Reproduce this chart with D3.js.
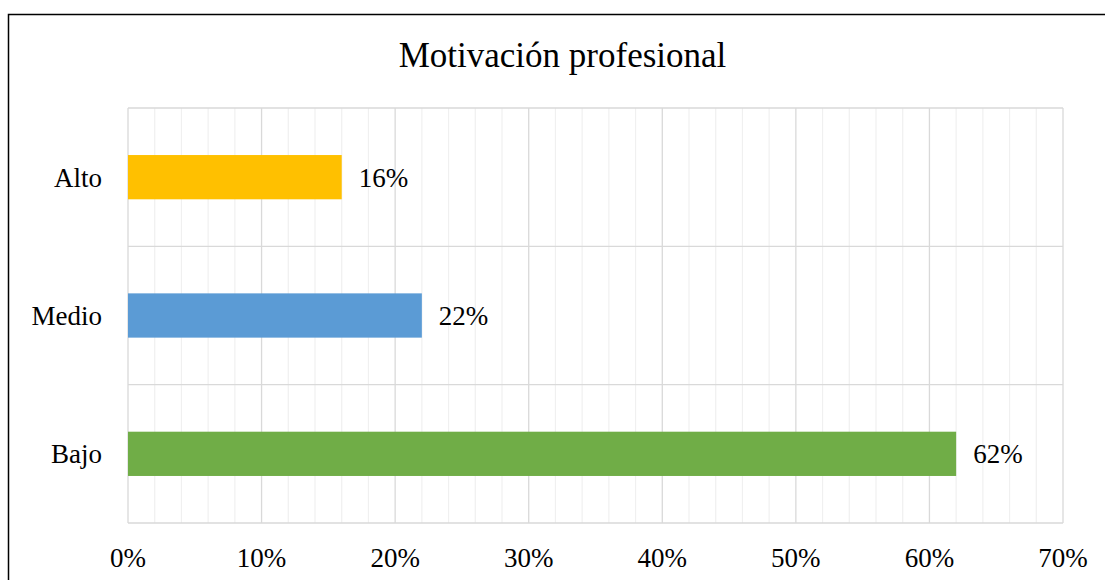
<!DOCTYPE html>
<html>
<head>
<meta charset="utf-8">
<script src="https://cdn.jsdelivr.net/npm/d3@7"></script>
<style>
  body { margin: 0; background: #fff; }
  svg text { font-family: "Liberation Serif", "Times New Roman", serif; fill: #000; }
</style>
</head>
<body>
<div id="chart"></div>
<script>
//Datos
const categories = ['Alto', 'Medio', 'Bajo'];
const values = [0.16, 0.22, 0.62];
const barColors = ['#FFC000', '#5B9BD5', '#70AD47'];
const xTicks = [0, 0.1, 0.2, 0.3, 0.4, 0.5, 0.6, 0.7];
const title = 'Motivación profesional';

const W = 1105, H = 580;
let margin = {top: 108, right: 42, bottom: 57, left: 128},
    width = W - margin.left - margin.right,
    height = H - margin.top - margin.bottom;

let svg = d3.select('#chart')
    .append('svg')
        .attr('width', W)
        .attr('height', H);

//Marco exterior
svg.append('rect')
    .attr('x', 8.5).attr('y', 14.5)
    .attr('width', W + 20).attr('height', H + 20)
    .attr('fill', 'none')
    .attr('stroke', '#000')
    .attr('stroke-width', 1.5);

//Título
svg.append('text')
    .attr('x', 562.5)
    .attr('y', 67)
    .attr('text-anchor', 'middle')
    .style('font-size', '35px')
    .text(title);

let g = svg.append('g')
    .attr('transform', 'translate(' + margin.left + ',' + margin.top + ')');

let x = d3.scaleLinear()
    .domain([0, 0.7])
    .range([0, width]);

let y = d3.scaleBand()
    .domain(categories)
    .range([0, height])
    .padding(0);

//Rejilla menor
g.append('g')
    .selectAll('line')
    .data(x.ticks(35).filter(function(d) { return Math.round(d * 100) % 10 != 0; }))
    .enter()
    .append('line')
    .attr('x1', function(d) { return x(d); })
    .attr('x2', function(d) { return x(d); })
    .attr('y1', 0).attr('y2', height)
    .attr('stroke', '#f0f0f0')
    .attr('stroke-width', 1.2);

//Rejilla mayor
g.append('g')
    .selectAll('line')
    .data(xTicks)
    .enter()
    .append('line')
    .attr('x1', function(d) { return x(d); })
    .attr('x2', function(d) { return x(d); })
    .attr('y1', 0).attr('y2', height)
    .attr('stroke', '#d9d9d9')
    .attr('stroke-width', 1.3);

//Separadores horizontales
let hLines = categories.map(function(c) { return y(c); }).concat([height]);
g.append('g')
    .selectAll('line')
    .data(hLines)
    .enter()
    .append('line')
    .attr('x1', 0).attr('x2', width)
    .attr('y1', function(d) { return d; })
    .attr('y2', function(d) { return d; })
    .attr('stroke', '#d9d9d9')
    .attr('stroke-width', 1.3);

//Barras
let barH = y.bandwidth() * 0.32;
g.append('g')
    .selectAll('rect')
    .data(categories)
    .enter()
    .append('rect')
    .attr('x', x(0))
    .attr('y', function(d) { return y(d) + (y.bandwidth() - barH) / 2; })
    .attr('width', function(d, i) { return x(values[i]) - x(0); })
    .attr('height', barH)
    .attr('fill', function(d, i) { return barColors[i]; });

//Etiquetas de valores
g.append('g')
    .selectAll('text')
    .data(categories)
    .enter()
    .append('text')
    .attr('x', function(d, i) { return x(values[i]) + 17; })
    .attr('y', function(d) { return y(d) + y.bandwidth() / 2; })
    .attr('dy', '0.35em')
    .style('font-size', '27px')
    .text(function(d, i) { return d3.format('.0%')(values[i]); });

//Categorías
g.append('g')
    .selectAll('text')
    .data(categories)
    .enter()
    .append('text')
    .attr('x', -26)
    .attr('y', function(d) { return y(d) + y.bandwidth() / 2; })
    .attr('dy', '0.35em')
    .attr('text-anchor', 'end')
    .style('font-size', '27px')
    .text(function(d) { return d; });

//Eje X
g.append('g')
    .selectAll('text')
    .data(xTicks)
    .enter()
    .append('text')
    .attr('x', function(d) { return x(d); })
    .attr('y', height + 44)
    .attr('text-anchor', 'middle')
    .style('font-size', '27px')
    .text(function(d) { return d3.format('.0%')(d); });
</script>
</body>
</html>
